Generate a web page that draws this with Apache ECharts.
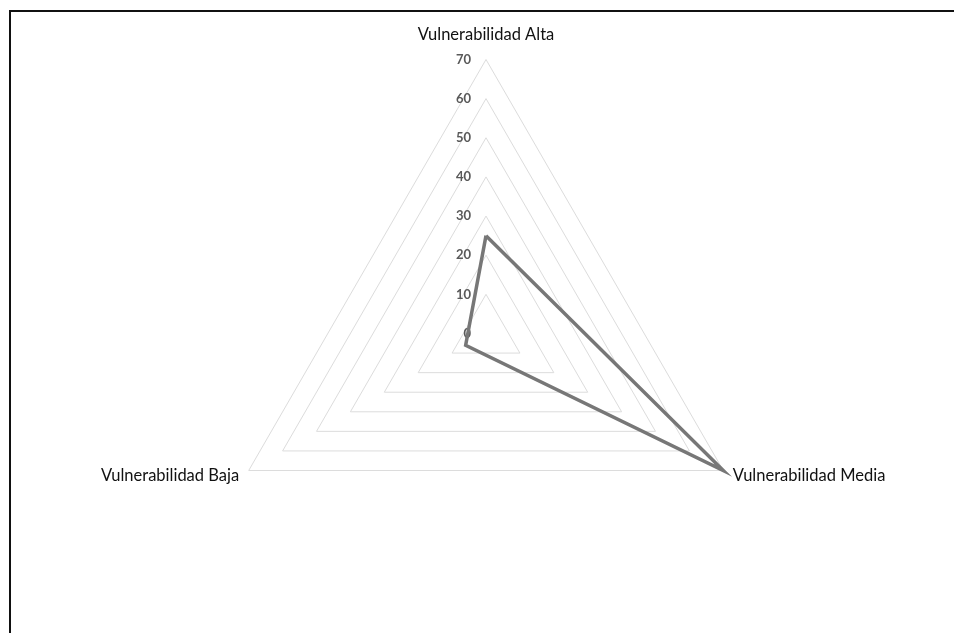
<!DOCTYPE html>
<html>
<head>
<meta charset="utf-8">
<script src="https://cdn.jsdelivr.net/npm/echarts@6/dist/echarts.min.js"></script>
<style>
  html, body { margin: 0; padding: 0; background: #fff; overflow: hidden; }
  #chart { position: absolute; left: 0; top: 0; width: 954px; height: 633px; }
  #frame { position: absolute; left: 9px; top: 10px; width: 2000px; height: 2000px;
           border-top: 2px solid #111; border-left: 2px solid #111; pointer-events: none; }
</style>
</head>
<body>
<div id="chart"></div>
<div id="frame"></div>
<script>
// Radar axes (counter-clockwise from the top)
const categories = ['Vulnerabilidad Alta', 'Vulnerabilidad Baja', 'Vulnerabilidad Media'];
const values = [25, 6, 70];
const axisMax = 70;
const axisStep = 10;

const chart = echarts.init(document.getElementById('chart'), null, { renderer: 'canvas' });

const indicator = categories.map(function (name, i) {
  const ind = { name: name, min: 0, max: axisMax, nameGap: 11 };
  // only the vertical axis carries the scale labels
  if (i === 0) {
    ind.axisLabel = { show: true };
    ind.nameGap = 16;
  }
  return ind;
});

chart.setOption({
  animation: false,
  backgroundColor: '#ffffff',
  radar: {
    center: [486, 333.5],
    radius: 274,
    startAngle: 90,
    shape: 'polygon',
    splitNumber: axisMax / axisStep,
    indicator: indicator,
    nameGap: 11,
    axisName: {
      color: '#111',
      fontFamily: 'Lato',
      fontSize: 16.5
    },
    axisLine: { show: false },
    axisTick: { show: false },
    axisLabel: {
      show: false,
      color: '#595959',
      fontFamily: 'Lato',
      fontWeight: 'bold',
      fontSize: 13,
      margin: 15
    },
    splitLine: { lineStyle: { color: '#dcdcdc', width: 1 } },
    splitArea: { show: false }
  },
  series: [{
    type: 'radar',
    symbol: 'none',
    lineStyle: { color: '#777777', width: 3.5, join: 'miter', miterLimit: 10 },
    areaStyle: null,
    data: [{ value: values, name: 'Vulnerabilidad' }]
  }]
});
</script>
</body>
</html>
